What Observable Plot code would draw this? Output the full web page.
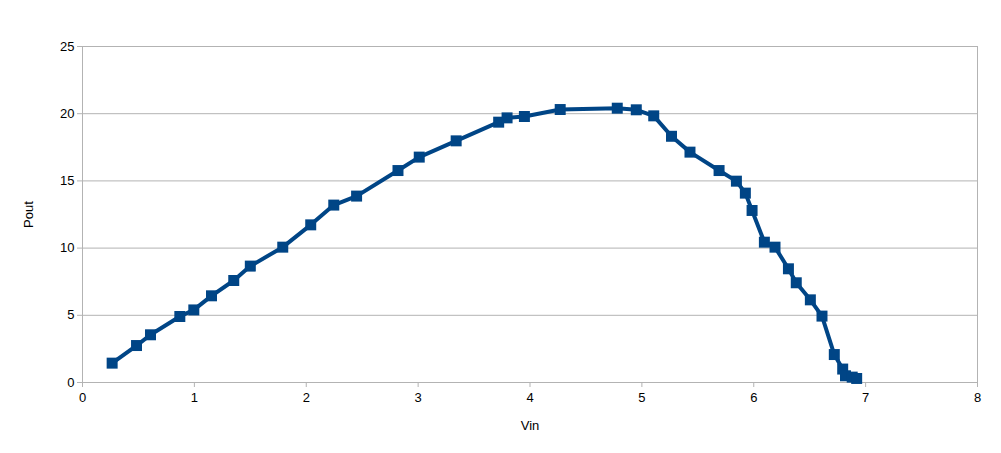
<!DOCTYPE html>
<html>
<head>
<meta charset="utf-8">
<script src="https://cdn.jsdelivr.net/npm/d3@7"></script>
<script src="https://cdn.jsdelivr.net/npm/@observablehq/plot@0.6"></script>
<style>
  html, body { margin: 0; padding: 0; background: #fff; }
  #chart svg { display: block; }
</style>
</head>
<body>
<div id="chart"></div>
<script>
const vin = [0.265, 0.483, 0.608, 0.87, 0.995, 1.153, 1.352, 1.50, 1.79, 2.04, 2.246, 2.45,
  2.82, 3.01, 3.34, 3.72, 3.795, 3.95, 4.27, 4.78, 4.95, 5.106, 5.265, 5.43, 5.69, 5.845,
  5.925, 5.985, 6.095, 6.19, 6.31, 6.38, 6.506, 6.61, 6.72, 6.795, 6.82, 6.88, 6.92];
const pout = [1.44, 2.75, 3.55, 4.91, 5.4, 6.45, 7.59, 8.66, 10.07, 11.73, 13.2, 13.87,
  15.77, 16.77, 17.98, 19.37, 19.69, 19.79, 20.31, 20.41, 20.29, 19.84, 18.32, 17.14, 15.77, 14.98,
  14.09, 12.8, 10.44, 10.07, 8.46, 7.42, 6.15, 4.94, 2.08, 1.0, 0.5, 0.4, 0.3];
const xTicks = [0, 1, 2, 3, 4, 5, 6, 7, 8];
const yTicks = [0, 5, 10, 15, 20, 25];

const data = vin.map((v, i) => ({vin: v, pout: pout[i]}));
const blue = "#004586";
const grid = "#b3b3b3";

const chart = Plot.plot({
  width: 1001,
  height: 453,
  marginLeft: 82,
  marginRight: 24,
  marginTop: 46,
  marginBottom: 71,
  style: {fontFamily: "'Liberation Sans', Arial, sans-serif", fontSize: "12px", color: "#000", background: "#fff"},
  x: {domain: [0, 8]},
  y: {domain: [0, 25]},
  marks: [
    Plot.gridY(yTicks, {stroke: grid, strokeOpacity: 1}),
    Plot.ruleX([0, 8], {stroke: grid}),
    Plot.axisX(xTicks, {tickSize: 5, tickPadding: 5, stroke: grid, fontSize: 13, label: "Vin", labelAnchor: "center", labelOffset: 47, labelArrow: "none"}),
    Plot.axisY(yTicks, {tickSize: 5, tickPadding: 3, stroke: grid, fontSize: 13, label: "Pout", labelAnchor: "center", labelOffset: 59, labelArrow: "none"}),
    Plot.line(data, {x: "vin", y: "pout", stroke: blue, strokeWidth: 4, strokeLinejoin: "round"}),
    Plot.dot(data, {x: "vin", y: "pout", symbol: "square", r: 6.2, fill: blue, stroke: "none"})
  ]
});
document.getElementById("chart").appendChild(chart);
</script>
</body>
</html>
